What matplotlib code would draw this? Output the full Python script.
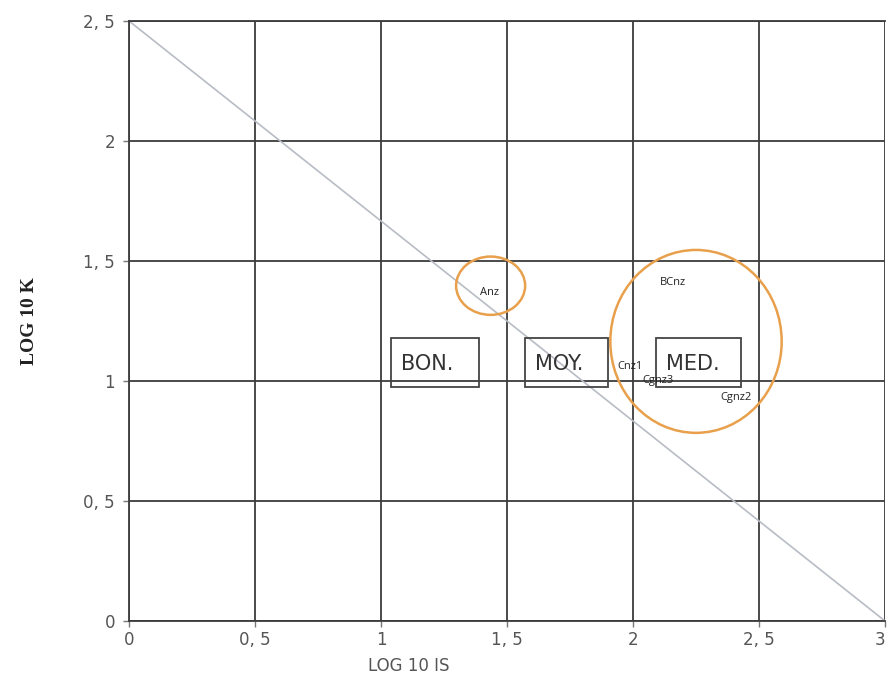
import matplotlib.pyplot as plt
from matplotlib.patches import Rectangle, Ellipse

# axis ticks
x_ticks = [0, 0.5, 1, 1.5, 2, 2.5, 3]
x_tick_labels = ["0", "0, 5", "1", "1, 5", "2", "2, 5", "3"]
y_ticks = [0, 0.5, 1, 1.5, 2, 2.5]
y_tick_labels = ["0", "0, 5", "1", "1, 5", "2", "2, 5"]

# diagonal limit line
diag_x = [0, 3]
diag_y = [2.5, 0]

# class boxes
box_labels = ["BON.", "MOY.", "MED."]
box_x0 = [1.04, 1.57, 2.09]
box_x1 = [1.39, 1.90, 2.43]
box_y0 = [0.975, 0.975, 0.975]
box_y1 = [1.18, 1.18, 1.18]

# sample points (labels only)
pt_labels = ["Anz", "BCnz", "Cnz1", "Cgnz3", "Cgnz2"]
pt_x = [1.43, 2.16, 1.99, 2.10, 2.41]
pt_y = [1.37, 1.41, 1.06, 1.00, 0.93]

# orange circles around groups
circ_x = [1.435, 2.25]
circ_y = [1.397, 1.165]
circ_w = [0.274, 0.68]
circ_h = [0.243, 0.762]

fig = plt.figure(figsize=(8.88, 6.9), dpi=100)
ax = fig.add_axes([129/888, 69/690, 756/888, 600/690])

ax.set_xlim(0, 3)
ax.set_ylim(0, 2.5)

ax.plot(diag_x, diag_y, color="#b8bcc4", linewidth=1.2, zorder=2)

for lab, x0, x1, y0, y1 in zip(box_labels, box_x0, box_x1, box_y0, box_y1):
    ax.add_patch(Rectangle((x0, y0), x1 - x0, y1 - y0, fill=False,
                           edgecolor="#444444", linewidth=1.3, zorder=3))
    ax.text(x0 + 0.04, (y0 + y1) / 2 - 0.005, lab, fontsize=15, color="#333333",
            ha="left", va="center", zorder=4)

for lab, x, y in zip(pt_labels, pt_x, pt_y):
    ax.text(x, y, lab, fontsize=8, color="#222222", ha="center", va="center",
            family="Open Sans", zorder=5)

for cx, cy, w, h in zip(circ_x, circ_y, circ_w, circ_h):
    ax.add_patch(Ellipse((cx, cy), w, h, fill=False, edgecolor="#e8a04c",
                         linewidth=1.8, zorder=6))

ax.set_xticks(x_ticks)
ax.set_xticklabels(x_tick_labels)
ax.set_yticks(y_ticks)
ax.set_yticklabels(y_tick_labels)
ax.tick_params(axis="both", colors="#777777", labelcolor="#555555", labelsize=12,
               length=4, width=1)
ax.tick_params(axis="y", pad=6)
ax.get_xticklabels()[-1].set_horizontalalignment("right")
ax.grid(True, color="#3c3c3c", linewidth=1.3)
ax.set_axisbelow(True)

ax.spines["right"].set_visible(False)
for side in ["left", "bottom", "top"]:
    ax.spines[side].set_color("#3c3c3c")
    ax.spines[side].set_linewidth(1.3)

ax.set_xlabel("LOG 10 IS", fontsize=12, color="#555555")
ax.xaxis.set_label_coords(1.11 / 3, -0.06)
ax.set_ylabel("LOG 10 K", fontsize=14, fontweight="bold", family="Liberation Serif",
              color="#222222")
ax.yaxis.set_label_coords(-0.12, 0.5)

fig.savefig("out.png", dpi=100)
